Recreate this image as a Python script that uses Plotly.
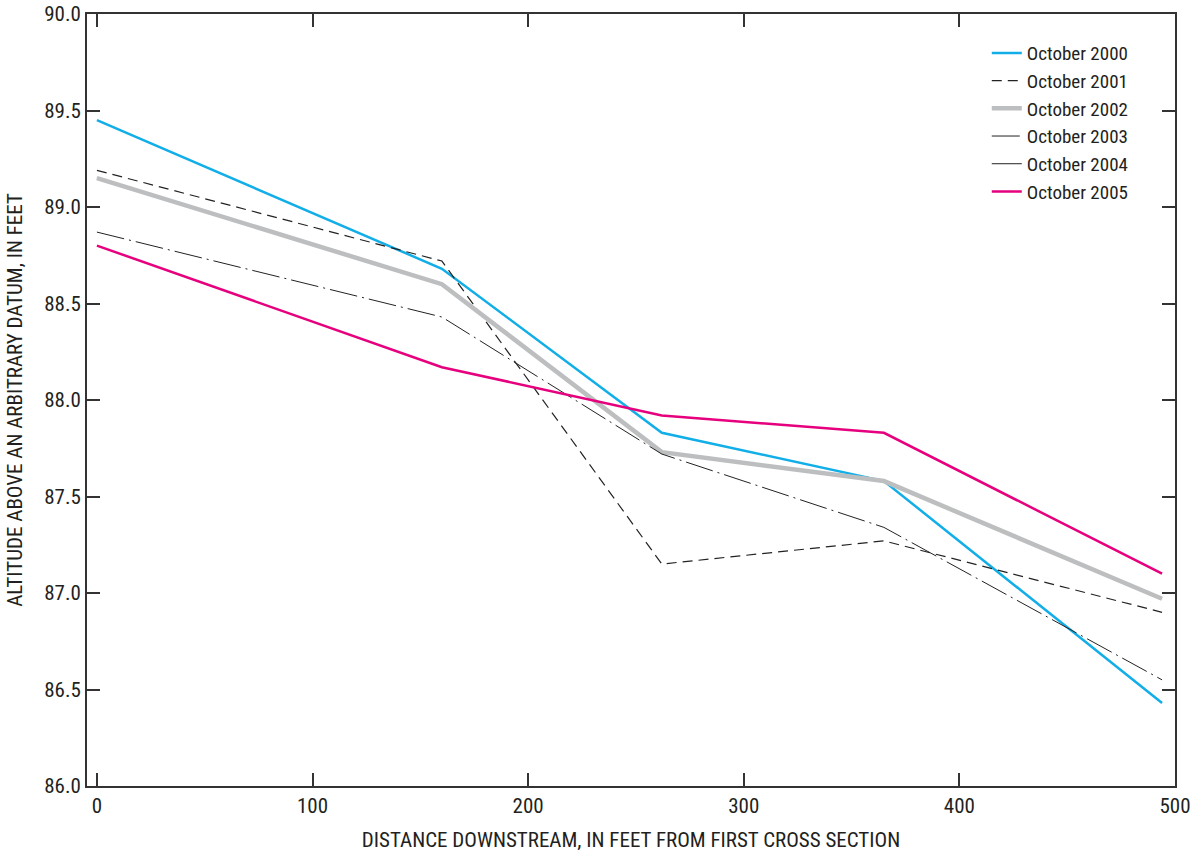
import plotly.graph_objects as go

distance = [0, 160, 262, 365, 494]
oct2000 = [89.45, 88.68, 87.83, 87.58, 86.43]
oct2001 = [89.19, 88.72, 87.15, 87.27, 86.90]
oct2002 = [89.15, 88.60, 87.73, 87.58, 86.97]
oct2003 = [88.87, 88.43, 87.72, 87.34, 86.55]
oct2004 = [89.15, 88.60, 87.73, 87.58, 86.97]
oct2005 = [88.80, 88.17, 87.92, 87.83, 87.10]

# (name, values, line style, legend rank); drawn in list order
series = [
    ("October 2004", oct2004, dict(color="#222222", width=1), 5),
    ("October 2000", oct2000, dict(color="#12aee8", width=2.5), 1),
    ("October 2001", oct2001, dict(color="#222222", width=1.2, dash="10px,6px"), 2),
    ("October 2002", oct2002, dict(color="#bcbec0", width=4.5), 3),
    ("October 2003", oct2003, dict(color="#222222", width=1, dash="28px,5px,2px,5px"), 4),
    ("October 2005", oct2005, dict(color="#e6007e", width=2.5), 6),
]

fig = go.Figure()
for name, vals, line, rank in series:
    fig.add_trace(go.Scatter(x=distance, y=vals, mode="lines", name=name,
                             line=line, legendrank=rank))

font_family = "Liberation Sans Narrow, Roboto Condensed, Arial Narrow, Liberation Sans, sans-serif"
axis_common = dict(
    showline=True, linecolor="#333333", linewidth=2, mirror="ticks",
    ticks="inside", ticklen=13, tickwidth=2, tickcolor="#333333",
    showgrid=False, zeroline=False, automargin=False,
    tickfont=dict(family=font_family, size=21, color="#231f20"),
)

fig.update_layout(
    width=1191, height=853,
    margin=dict(l=87, r=16, t=14, b=67),
    plot_bgcolor="white", paper_bgcolor="white",
    font=dict(family=font_family, color="#231f20"),
    xaxis=dict(range=[-4.6, 500], tickvals=[0, 100, 200, 300, 400, 500],
               title=dict(text="DISTANCE DOWNSTREAM, IN FEET FROM FIRST CROSS SECTION",
                          font=dict(family=font_family, size=21), standoff=15),
               **axis_common),
    yaxis=dict(range=[86, 90], dtick=0.5, tickformat=".1f",
               title=dict(text="ALTITUDE ABOVE AN ARBITRARY DATUM, IN FEET",
                          font=dict(family=font_family, size=21), standoff=16),
               **axis_common),
    legend=dict(x=0.827, y=0.974, xanchor="left", yanchor="top",
                font=dict(family=font_family, size=19, color="#231f20"),
                bgcolor="rgba(0,0,0,0)", tracegroupgap=0),
    showlegend=True,
)

fig.write_html("out.html", config={"displayModeBar": False},
               post_script="document.body.style.margin='0';document.body.style.overflow='hidden';")
